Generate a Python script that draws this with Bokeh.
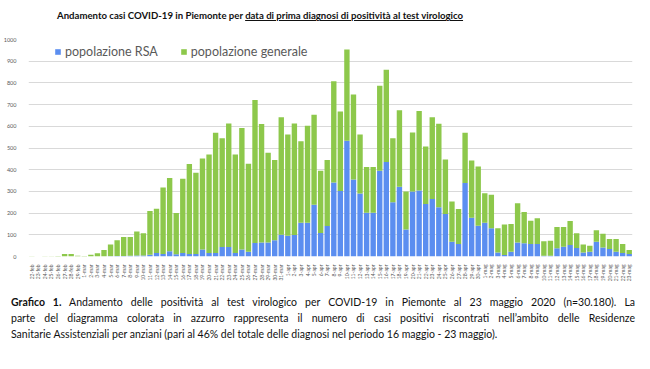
import math
from bokeh.plotting import figure
from bokeh.models import ColumnDataSource, Div, Legend, FixedTicker
from bokeh.layouts import column
from bokeh.embed import file_html
from bokeh.resources import INLINE

months = [("feb", 22, 29), ("mar", 1, 31), ("apr", 1, 30), ("mag", 1, 23)]
dates = [f"{d}-{m}" for m, a, b in months for d in range(a, b + 1)]

rsa = [0, 0, 0, 0, 0, 0, 0, 0, 0, 0, 0, 0, 1, 2, 2, 3, 5, 5, 8, 16,
       12, 24, 10, 16, 12, 12, 32, 16, 16, 44, 44, 16, 32, 22, 62, 65, 65, 75, 100, 96,
       99, 156, 156, 239, 108, 141, 341, 302, 533, 355, 290, 202, 202, 395, 436, 250, 322, 125, 300, 304,
       242, 265, 227, 196, 68, 58, 339, 178, 142, 155, 130, 19, 7, 22, 65, 61, 58, 58, 4, 4,
       38, 45, 53, 39, 19, 22, 68, 42, 35, 22, 16, 12]
generale = [1, 0, 1, 1, 2, 12, 12, 3, 2, 8, 15, 30, 54, 73, 88, 87, 110, 102, 202, 204,
            306, 338, 190, 342, 414, 374, 420, 454, 554, 501, 569, 454, 560, 405, 659, 546, 413, 370, 542, 466,
            514, 375, 447, 414, 287, 304, 467, 366, 421, 392, 272, 210, 210, 392, 425, 295, 352, 175, 271, 366,
            265, 377, 385, 251, 185, 161, 231, 264, 273, 137, 155, 111, 141, 128, 180, 144, 107, 118, 66, 69,
            98, 91, 111, 68, 36, 28, 53, 63, 46, 59, 42, 18]
y_ticks = [0, 100, 200, 300, 400, 500, 600, 700, 800, 900, 1000]

BLUE = "#5b8ef0"
GREEN = "#8dc84b"
FONT = "Lato"

source = ColumnDataSource(dict(date=dates, rsa=rsa, gen=generale))

p = figure(x_range=dates, y_range=(0, 1000), width=634, height=252,
           output_backend="svg", toolbar_location=None,
           min_border_left=22, min_border_right=2, min_border_top=7, min_border_bottom=22)
p.outline_line_color = None
renderers = p.vbar_stack(["rsa", "gen"], x="date", width=0.82, color=[BLUE, GREEN],
                         line_color=None, source=source)

legend = Legend(items=[("popolazione RSA", [renderers[0]]),
                       ("popolazione generale", [renderers[1]])],
                location=(26, 197), orientation="horizontal")
legend.background_fill_alpha = 0
legend.border_line_color = None
legend.padding = 2
legend.spacing = 22
legend.glyph_width = 7
legend.glyph_height = 7
legend.label_height = 16
legend.label_standoff = 4
legend.label_text_font = FONT
legend.label_text_font_size = "12.5px"
legend.label_text_color = "#595959"
legend.label_text_baseline = "middle"
p.add_layout(legend)

p.yaxis.ticker = FixedTicker(ticks=y_ticks)
p.yaxis.axis_line_color = None
p.yaxis.major_tick_line_color = None
p.yaxis.minor_tick_line_color = None
p.yaxis.major_label_text_font_size = "5.5px"
p.yaxis.major_label_text_color = "#595959"
p.yaxis.major_label_text_font = FONT
p.yaxis.major_label_standoff = 6

p.xaxis.axis_line_color = None
p.xaxis.major_tick_line_color = None
p.xaxis.major_label_orientation = math.pi / 2
p.xaxis.major_label_text_font_size = "5px"
p.xaxis.major_label_text_color = "#595959"
p.xaxis.major_label_text_font = FONT
p.xaxis.major_label_standoff = 2

p.xgrid.grid_line_color = None
p.ygrid.grid_line_color = "#d9d9d9"
p.ygrid.grid_line_width = 1

title = Div(text="Andamento casi COVID-19 in Piemonte per <u>data di prima diagnosi di positività al test virologico</u>",
            width=634, height=22,
            styles={"font-family": FONT, "font-weight": "bold", "font-size": "9.6px",
                    "color": "#111", "padding-left": "52px", "line-height": "22px",
                    "white-space": "nowrap", "box-sizing": "border-box"})

caption = Div(text=(
    "<div style='padding-top:5px; line-height:16px; font-family:Lato; font-size:10.5px; color:#111; width:624px;'>"
    "<div style='text-align:justify; text-align-last:justify;'><b>Grafico 1.</b> Andamento delle positività al test virologico per COVID-19 in Piemonte al 23 maggio 2020 (n=30.180). La</div>"
    "<div style='text-align:justify; text-align-last:justify;'>parte del diagramma colorata in azzurro rappresenta il numero di casi positivi riscontrati nell’ambito delle Residenze</div>"
    "<div>Sanitarie Assistenziali per anziani (pari al 46% del totale delle diagnosi nel periodo 16 maggio - 23 maggio).</div>"
    "</div>"),
    width=634, height=66, styles={"padding-left": "6px", "box-sizing": "border-box"})

layout = column(title, p, caption, spacing=0)
open("out.html", "w").write(file_html(layout, INLINE))
